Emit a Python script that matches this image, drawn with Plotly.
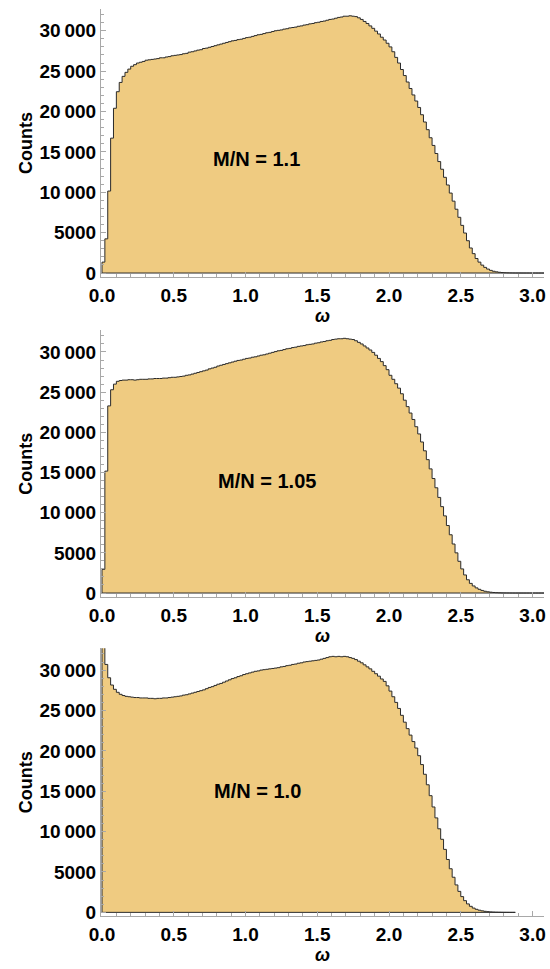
import plotly.graph_objects as go

# ---------------- data ----------------
bin_width = 0.02  # histogram bin width in omega

counts_mn_110 = [
    1350, 4230, 10150, 16700, 20400, 22450, 23600, 24350, 24850, 25250,
    25600, 25800, 26000, 26100, 26200, 26350, 26400, 26450, 26500, 26550,
    26650, 26650, 26750, 26800, 26900, 26950, 27000, 27050, 27150, 27200,
    27350, 27400, 27500, 27600, 27650, 27800, 27850, 27950, 28050, 28150,
    28250, 28350, 28450, 28550, 28650, 28750, 28800, 28900, 28950, 29050,
    29150, 29200, 29300, 29400, 29500, 29550, 29650, 29750, 29800, 29900,
    30000, 30050, 30100, 30200, 30250, 30350, 30400, 30450, 30550, 30600,
    30700, 30750, 30850, 30900, 31000, 31050, 31150, 31200, 31300, 31400,
    31450, 31550, 31650, 31700, 31800, 31800, 31850, 31800, 31750, 31600,
    31400, 31150, 30900, 30600, 30300, 29950, 29600, 29200, 28850, 28450,
    28000, 27400, 26700, 26000, 25200, 24450, 23650, 22850, 22050, 21300,
    20500, 19600, 18700, 17750, 16750, 15800, 14800, 13800, 12850, 11850,
    10900, 9900, 8900, 7900, 6900, 5900, 4950, 4000, 3100, 2400,
    1800, 1350, 980, 700, 490, 330, 220, 145, 92, 58,
    36, 22, 14, 9, 6, 4, 2, 1, 1, 0,
    0, 0, 0, 0,
]

counts_mn_105 = [
    2950, 15170, 23290, 25300, 26000, 26350, 26450, 26500, 26500, 26550,
    26550, 26500, 26550, 26600, 26600, 26600, 26650, 26650, 26700, 26700,
    26700, 26750, 26750, 26800, 26850, 26850, 26900, 26950, 27000, 27100,
    27150, 27250, 27350, 27450, 27550, 27650, 27750, 27900, 28000, 28100,
    28250, 28350, 28450, 28550, 28650, 28750, 28850, 28950, 29000, 29100,
    29200, 29250, 29350, 29400, 29500, 29600, 29650, 29750, 29850, 29950,
    30050, 30150, 30200, 30300, 30400, 30450, 30550, 30600, 30700, 30750,
    30800, 30900, 30950, 31000, 31100, 31150, 31250, 31300, 31400, 31450,
    31550, 31600, 31650, 31650, 31700, 31650, 31600, 31550, 31400, 31200,
    31000, 30750, 30500, 30250, 29950, 29600, 29200, 28800, 28300, 27800,
    27100, 26600, 26050, 25500, 24800, 24000, 23200, 22400, 21600, 20700,
    19800, 18800, 17700, 16600, 15450, 14250, 13100, 11900, 10750, 9600,
    8400, 7250, 6100, 5000, 3950, 3000, 2250, 1650, 1200, 880,
    640, 460, 320, 220, 150, 100, 65, 42, 26, 16,
    10, 6, 4, 2, 1, 0, 0, 0, 0, 0,
    0, 0, 0, 0,
]

counts_mn_100 = [
    36000, 30700, 29050, 28150, 27620, 27250, 27000, 26850, 26750, 26700,
    26650, 26600, 26600, 26550, 26550, 26550, 26500, 26500, 26450, 26500,
    26500, 26550, 26550, 26600, 26650, 26700, 26750, 26800, 26900, 26950,
    27050, 27150, 27250, 27350, 27450, 27550, 27700, 27850, 27950, 28100,
    28250, 28350, 28500, 28650, 28800, 28950, 29050, 29200, 29300, 29450,
    29550, 29650, 29750, 29850, 29900, 30000, 30050, 30100, 30150, 30200,
    30250, 30300, 30400, 30450, 30550, 30600, 30700, 30750, 30850, 30900,
    31000, 31050, 31100, 31150, 31200, 31250, 31350, 31450, 31550, 31650,
    31700, 31650, 31700, 31650, 31700, 31650, 31550, 31450, 31300, 31100,
    30900, 30650, 30400, 30150, 29850, 29550, 29250, 28900, 28600, 28050,
    27400, 26700, 26000, 25250, 24400, 23550, 22750, 21950, 21150, 20350,
    19400, 18300, 17100, 15800, 14450, 13050, 11700, 10350, 9050, 7800,
    6550, 5400, 4350, 3400, 2600, 1950, 1450, 1050, 750, 530,
    380, 270, 190, 130, 90, 60, 40, 26, 17, 11,
    7, 4, 2, 1,
]

panel_labels = ["M/N = 1.1", "M/N = 1.05", "M/N = 1.0"]
y_tickvals = [0, 5000, 10000, 15000, 20000, 25000, 30000]
y_ticktext = ["0", "5000", "10\u2009000", "15\u2009000", "20\u2009000", "25\u2009000", "30\u2009000"]
x_tickvals = [0, 0.5, 1.0, 1.5, 2.0, 2.5, 3.0]
x_ticktext = ["0.0", "0.5", "1.0", "1.5", "2.0", "2.5", "3.0"]
x_title = "ω"
y_title = "Counts"

# ---------------- style / layout ----------------
W, H = 550, 969
FILL = "#EFCB81"
EDGE = "#2a2a2a"
AXIS = "#a8a8a8"
FONT = "Liberation Sans"

# pixel geometry of each panel: (top px, bottom px)
panels_px = [(9, 279), (332.7, 601.3), (653, 923)]
label_xy = [(1.08, 14100), (1.15, 13900), (1.085, 15000)]
x_range = [-0.007, 3.08]
y_range = [-490, 32700]

series = [counts_mn_110, counts_mn_105, counts_mn_100]

fig = go.Figure()
for k, counts in enumerate(series):
    n = len(counts)
    edges = [i * bin_width for i in range(n + 1)]
    xs = [0.0] + edges + [edges[-1], 0.0]
    ys = [0] + list(counts) + [counts[-1], 0, 0]
    xa = "x" if k == 0 else f"x{k+1}"
    ya = "y" if k == 0 else f"y{k+1}"
    fig.add_trace(go.Scatter(
        x=xs, y=ys, mode="lines", line=dict(shape="hv", color=EDGE, width=1),
        fill="toself", fillcolor=FILL, xaxis=xa, yaxis=ya, showlegend=False,
        hoverinfo="skip",
    ))

layout = dict(
    width=W, height=H,
    margin=dict(l=101, r=6, t=0, b=0),
    paper_bgcolor="white", plot_bgcolor="white",
    font=dict(family=FONT, color="black"),
    annotations=[],
)

tickfont = dict(family=FONT, size=19, color="black", weight="bold")

for k in range(3):
    top, bot = panels_px[k]
    dom = [1 - bot / H, 1 - top / H]
    xkey = "xaxis" if k == 0 else f"xaxis{k+1}"
    ykey = "yaxis" if k == 0 else f"yaxis{k+1}"
    yref = "y" if k == 0 else f"y{k+1}"
    xref = "x" if k == 0 else f"x{k+1}"
    layout[xkey] = dict(
        domain=[0, 1], anchor=yref, range=x_range,
        showline=True, linecolor=AXIS, linewidth=1, mirror=False,
        showgrid=False, zeroline=False,
        tickmode="array", tickvals=x_tickvals, ticktext=x_ticktext,
        ticks="inside", ticklen=5, tickcolor=AXIS, tickwidth=1,
        tickfont=tickfont, ticklabelstandoff=1,
        minor=dict(dtick=0.1, tick0=0, ticks="inside", ticklen=3,
                   tickcolor=AXIS, tickwidth=1, showgrid=False),
    )
    layout[ykey] = dict(
        domain=dom, anchor=xref, range=y_range,
        showline=True, linecolor=AXIS, linewidth=1, mirror=False,
        showgrid=False, zeroline=False,
        tickmode="array", tickvals=y_tickvals, ticktext=y_ticktext,
        ticks="inside", ticklen=5, tickcolor=AXIS, tickwidth=1,
        tickfont=tickfont, ticklabelstandoff=0,
        minor=dict(dtick=1000, tick0=0, ticks="inside", ticklen=3,
                   tickcolor=AXIS, tickwidth=1, showgrid=False),
    )
    lx, ly = label_xy[k]
    layout["annotations"].append(dict(
        x=lx, y=ly, xref=xref, yref=yref, text=panel_labels[k],
        showarrow=False, xanchor="center", yanchor="middle",
        font=dict(family=FONT, size=20, color="black", weight="bold"),
    ))
    # y axis title
    layout["annotations"].append(dict(
        x=(26 - 101) / 443, y=1 - ((top + bot) / 2) / H, xref="paper", yref="paper",
        text=y_title, textangle=-90, showarrow=False,
        xanchor="center", yanchor="middle",
        font=dict(family=FONT, size=18, color="black", weight="bold"),
    ))
    # x axis title
    layout["annotations"].append(dict(
        x=(322 - 101) / 443, y=1 - (bot + 39) / H, xref="paper", yref="paper",
        text=x_title, showarrow=False, xanchor="center", yanchor="middle",
        borderpad=0,
        font=dict(family=FONT, size=18, color="black", weight="bold", style="italic"),
    ))

fig.update_layout(**layout)
fig.write_html(
    "out.html",
    config={"displayModeBar": False},
    post_script="document.body.style.margin='0';document.body.style.overflow='hidden';",
)
